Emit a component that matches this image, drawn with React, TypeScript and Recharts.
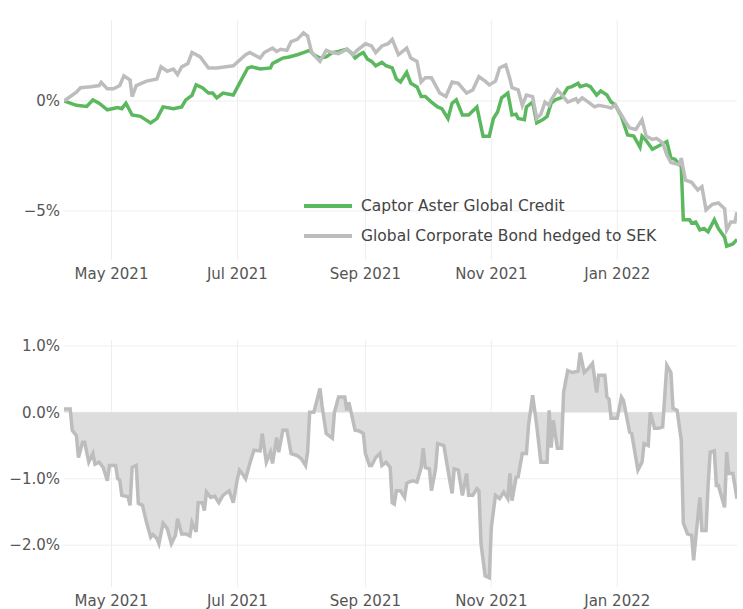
import { Area, AreaChart, CartesianGrid, Legend, Line, LineChart, XAxis, YAxis } from 'recharts'

// x values are days counted from 2021-04-08
const monthTicks = [23, 84, 146, 207, 268]
const monthLabels = ['May 2021', 'Jul 2021', 'Sep 2021', 'Nov 2021', 'Jan 2022']
const topTicks = [-5, 0]
const bottomTicks = [-2, -1, 0, 1]

const greenName = 'Captor Aster Global Credit'
const grayName = 'Global Corporate Bond hedged to SEK'

const greenDays = [
  0, 6, 11, 14, 17, 21, 26, 28, 30, 33, 37, 42, 45, 48, 53, 57, 59, 62, 64, 67, 70, 72, 74, 77, 82, 85, 89, 91, 95,
  100, 101, 103, 106, 109, 113, 116, 119, 121, 124, 127, 130, 133, 137, 139, 141, 143, 145, 147, 149, 151, 154, 156,
  159, 161, 163, 166, 168, 171, 173, 175, 178, 181, 183, 186, 188, 190, 193, 196, 200, 203, 206, 208, 210, 212, 215,
  217, 219, 220, 223, 224, 227, 229, 232, 234, 236, 238, 241, 244, 246, 249, 250, 253, 255, 258, 260, 263, 265, 267,
  270, 273, 276, 279, 280, 282, 285, 288, 291, 292, 294, 296, 299, 300, 303, 304, 306, 308, 310, 312, 315, 317, 320,
  321, 324, 326,
]
const greenValues = [
  0, -0.2, -0.25, 0.05, -0.1, -0.4, -0.3, -0.35, -0.1, -0.64, -0.7, -1.0, -0.8, -0.27, -0.35, -0.27, 0.05, 0.25, 0.73,
  0.6, 0.36, 0.36, 0.14, 0.36, 0.27, 0.8, 1.5, 1.55, 1.45, 1.5, 1.7, 1.8, 1.95, 2.0, 2.1, 2.2, 2.3, 2.1, 1.95, 2.0, 2.2,
  2.25, 2.35, 2.2, 1.95, 2.1, 2.2, 1.9, 1.8, 1.6, 1.75, 1.6, 1.5, 1.0, 0.86, 1.3, 0.8, 0.64, 0.2, 0.2, -0.05, -0.27,
  -0.35, -0.8, -0.1, 0.05, -0.64, -0.64, -0.27, -1.6, -1.6, -0.8, -0.5, 0.14, 0.36, -0.64, -0.6, -0.8, -0.85, -0.27,
  -0.05, -1.0, -0.85, -0.7, -0.1, 0.05, 0.15, 0.6, 0.65, 0.8, 0.65, 0.73, 0.65, 0.27, 0.45, 0.27, -0.05, -0.18, -0.7,
  -1.55, -1.6, -2.1, -1.6, -1.8, -2.2, -2.05, -1.9, -1.85, -2.6, -2.65, -3.0, -5.4, -5.4, -5.55, -5.5, -5.86, -5.8,
  -5.95, -5.4, -5.8, -6.2, -6.6, -6.5, -6.3,
]

const grayDays = [
  0, 6, 8, 13, 17, 18, 21, 24, 27, 29, 32, 33, 35, 40, 45, 47, 50, 53, 55, 57, 60, 62, 66, 70, 74, 82, 88, 90, 92, 95,
  97, 101, 103, 105, 108, 110, 113, 116, 118, 120, 124, 127, 130, 133, 137, 140, 142, 146, 149, 151, 154, 157, 159,
  162, 166, 168, 171, 173, 175, 178, 182, 185, 188, 191, 195, 198, 201, 204, 206, 209, 211, 214, 216, 217, 220, 222,
  224, 227, 229, 231, 233, 235, 236, 239, 241, 244, 248, 249, 251, 254, 257, 259, 263, 265, 267, 270, 272, 274, 277,
  280, 282, 285, 287, 290, 292, 294, 298, 299, 301, 304, 307, 309, 311, 314, 317, 320, 321, 323, 325, 326,
]
const grayValues = [
  0, 0.4, 0.6, 0.65, 0.7, 0.85, 0.55, 0.55, 0.7, 1.14, 0.95, 0.2, 0.7, 0.9, 1.0, 1.55, 1.35, 1.45, 1.2, 1.55, 1.7, 2.2,
  2.0, 1.5, 1.5, 1.6, 2.1, 2.2, 2.1, 1.95, 2.2, 2.4, 2.25, 2.35, 2.3, 2.7, 2.8, 3.1, 2.95, 2.2, 1.8, 2.3, 2.2, 2.15,
  2.35, 2.1, 2.3, 2.6, 2.5, 2.2, 2.5, 2.6, 2.8, 2.1, 2.4, 1.95, 1.8, 0.86, 1.05, 1.05, 0.36, 0.2, 0.86, 0.8, 0.36, 0.5,
  1.1, 0.9, 0.73, 0.9, 1.5, 1.64, 1.0, 0.6, 0.5, -0.2, 0.27, 0.2, -0.8, -0.6, -0.05, -0.2, 0.05, 0.5, 0.3, -0.05, 0.1,
  -0.05, 0.14, -0.05, -0.27, -0.2, -0.27, -0.32, -0.18, -0.64, -0.95, -1.23, -1.3, -0.86, -1.6, -1.75, -1.7, -1.9,
  -2.45, -2.8, -2.9, -2.6, -3.6, -3.7, -4.05, -3.9, -4.95, -4.7, -4.64, -4.9, -5.86, -5.5, -5.5, -5.05,
]

const diffDays = [
  0, 3, 4, 6, 7, 9, 10, 12, 14, 15, 17, 19, 21, 22, 25, 26, 27, 28, 31, 32, 33, 35, 36, 38, 40, 42, 43, 45, 46, 48, 50,
  52, 54, 55, 57, 59, 61, 62, 64, 65, 67, 68, 69, 71, 73, 75, 77, 80, 82, 84, 85, 87, 88, 90, 92, 95, 96, 98, 100, 101,
  103, 104, 106, 108, 110, 113, 115, 117, 118, 119, 121, 124, 125, 127, 130, 131, 133, 136, 137, 138, 141, 143, 145,
  146, 148, 149, 151, 153, 154, 156, 158, 159, 160, 161, 163, 165, 166, 167, 169, 171, 173, 174, 175, 177, 178, 180,
  181, 184, 186, 188, 189, 191, 193, 195, 196, 198, 200, 201, 202, 204, 206, 207, 209, 211, 213, 215, 216, 217, 219,
  220, 222, 224, 225, 227, 229, 231, 234, 235, 236, 237, 239, 241, 242, 244, 246, 249, 250, 252, 254, 256, 258, 259,
  262, 263, 264, 265, 268, 270, 271, 274, 275, 278, 280, 281, 283, 284, 286, 288, 290, 292, 294, 295, 297, 299, 300,
  302, 304, 305, 306, 308, 309, 311, 312, 313, 315, 316, 317, 320, 321, 322, 324, 326,
]
const diffValues = [
  0.05, 0.05, -0.27, -0.35, -0.68, -0.45, -0.45, -0.75, -0.62, -0.78, -0.75, -0.83, -1.03, -0.8, -0.8, -1.0, -1.02,
  -1.25, -1.27, -1.4, -0.83, -0.8, -1.37, -1.4, -1.66, -1.88, -1.84, -1.9, -1.98, -1.67, -1.75, -1.98, -1.85, -1.6,
  -1.83, -1.83, -1.86, -1.66, -1.8, -1.36, -1.36, -1.48, -1.2, -1.28, -1.26, -1.36, -1.25, -1.18, -1.36, -1.0, -0.87,
  -0.95, -1.0, -0.77, -0.57, -0.58, -0.32, -0.75, -0.6, -0.77, -0.38, -0.6, -0.27, -0.27, -0.62, -0.65, -0.7, -0.8,
  -0.6, 0, 0, 0.36, 0.1, -0.32, -0.39, 0, 0.23, 0.23, 0.03, 0.15, -0.27, -0.28, -0.32, -0.62, -0.8, -0.8, -0.68, -0.62,
  -0.8, -0.75, -0.83, -1.36, -1.38, -1.18, -1.18, -1.28, -1.07, -1.05, -1.03, -1.05, -0.83, -0.54, -0.83, -0.85, -1.18,
  -0.85, -0.47, -0.5, -0.87, -1.22, -0.85, -0.87, -1.25, -0.92, -1.25, -1.25, -1.15, -1.18, -1.98, -2.46, -2.49,
  -1.73, -1.25, -1.3, -1.2, -1.3, -0.92, -1.33, -0.98, -0.97, -0.62, -0.62, -0.2, 0.26, -0.2, -0.75, -0.75, 0.03,
  -0.53, -0.12, -0.54, -0.54, 0.3, 0.63, 0.6, 0.62, 0.9, 0.6, 0.66, 0.74, 0.3, 0.56, 0.56, 0.23, 0.2, -0.09, -0.09,
  0.23, 0.18, -0.3, -0.32, -0.87, -0.75, -0.47, -0.5, 0, -0.24, -0.24, -0.22, 0.71, 0.6, 0.06, 0.03, -0.42, -1.67,
  -1.83, -1.85, -2.23, -1.9, -1.28, -1.78, -1.78, -1.1, -0.6, -0.58, -1.1, -1.1, -1.43, -0.6, -0.92, -0.92, -1.3,
]

const GREEN = '#5cb85f'
const GRAY = '#bdbdbd'
const FONT = '"DejaVu Sans", sans-serif'
const TICK = { fill: '#555', fontSize: 15, fontFamily: FONT }

const greenData = greenDays.map((day, i) => ({ day, value: greenValues[i] }))
const grayData = grayDays.map((day, i) => ({ day, value: grayValues[i] }))
const diffData = diffDays.map((day, i) => ({ day, value: diffValues[i] }))

const monthLabel = (v: number) => monthLabels[monthTicks.indexOf(v)] ?? ''
const minus = (v: number) => (v < 0 ? '\u2212' : '')

function LegendBox() {
  const items = [
    { name: greenName, color: GREEN },
    { name: grayName, color: GRAY },
  ]
  return (
    <div style={{ fontFamily: FONT, fontSize: 15.5, color: '#444' }}>
      {items.map((item) => (
        <div key={item.name} style={{ display: 'flex', alignItems: 'center', height: 30 }}>
          <span style={{ display: 'inline-block', width: 48, height: 4, background: item.color, marginRight: 9 }} />
          <span>{item.name}</span>
        </div>
      ))}
    </div>
  )
}

export default function App() {
  return (
    <div style={{ width: 743, height: 609, background: '#fff' }}>
      <style>{'body{margin:0}'}</style>
      <LineChart width={743} height={290} margin={{ top: 20, right: 6, bottom: 0, left: 0 }}>
        <CartesianGrid stroke="#eeeeee" horizontalValues={topTicks} verticalValues={monthTicks} />
        <XAxis
          type="number"
          dataKey="day"
          domain={[0, 326]}
          ticks={monthTicks}
          tickFormatter={monthLabel}
          axisLine={false}
          tickLine={false}
          tickSize={0}
          tickMargin={8}
          height={30}
          tick={TICK}
          allowDataOverflow
        />
        <YAxis
          type="number"
          domain={[-7.23, 3.68]}
          ticks={topTicks}
          tickFormatter={(v: number) => `${minus(v)}${Math.abs(v)}%`}
          axisLine={false}
          tickLine={false}
          tickSize={0}
          tickMargin={4}
          width={64}
          tick={TICK}
          allowDataOverflow
        />
        <Legend
          layout="vertical"
          align="center"
          verticalAlign="middle"
          content={<LegendBox />}
          wrapperStyle={{ left: 304, top: 191, width: 'auto' }}
        />
        <Line
          data={greenData}
          dataKey="value"
          name={greenName}
          stroke={GREEN}
          strokeWidth={3.5}
          dot={false}
          type="linear"
          isAnimationActive={false}
        />
        <Line
          data={grayData}
          dataKey="value"
          name={grayName}
          stroke={GRAY}
          strokeWidth={3.5}
          dot={false}
          type="linear"
          isAnimationActive={false}
        />
      </LineChart>
      <AreaChart width={743} height={319} data={diffData} margin={{ top: 50, right: 6, bottom: 0, left: 0 }}>
        <CartesianGrid stroke="#eeeeee" horizontalValues={bottomTicks} verticalValues={monthTicks} />
        <XAxis
          type="number"
          dataKey="day"
          domain={[0, 326]}
          ticks={monthTicks}
          tickFormatter={monthLabel}
          axisLine={false}
          tickLine={false}
          tickSize={0}
          tickMargin={8}
          height={22}
          tick={TICK}
          allowDataOverflow
        />
        <YAxis
          type="number"
          domain={[-2.63, 1.09]}
          ticks={bottomTicks}
          tickFormatter={(v: number) => `${minus(v)}${Math.abs(v).toFixed(1)}%`}
          axisLine={false}
          tickLine={false}
          tickSize={0}
          tickMargin={4}
          width={64}
          tick={TICK}
          allowDataOverflow
        />
        <Area
          dataKey="value"
          baseValue={0}
          type="linear"
          stroke={GRAY}
          strokeWidth={3.5}
          fill="#dddddd"
          fillOpacity={1}
          isAnimationActive={false}
        />
      </AreaChart>
    </div>
  )
}
